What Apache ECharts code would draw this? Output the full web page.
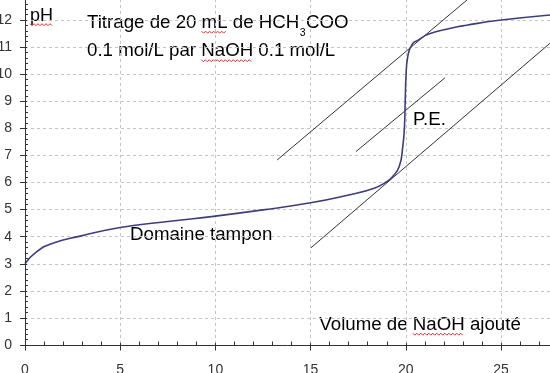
<!DOCTYPE html>
<html>
<head>
<meta charset="utf-8">
<script src="https://cdn.jsdelivr.net/npm/echarts@6/dist/echarts.min.js"></script>
<style>
html,body{margin:0;padding:0;background:#fff;}
#chart{width:550px;height:373px;}
</style>
</head>
<body>
<div id="chart"></div>
<script>
// ---- data ----
const volume = [0, 0.6, 1.5, 2.9, 5, 7.5, 10, 12.5, 15, 17, 18.3, 19, 19.3, 19.66, 19.84, 19.93, 19.97, 20.01, 20.1, 20.36, 20.6, 21.2, 22.3, 23.2, 24.9, 27.6];
const pHValues = [3.0, 3.44, 3.77, 4.02, 4.34, 4.56, 4.76, 4.99, 5.25, 5.54, 5.78, 6.03, 6.21, 6.6, 7.32, 8.06, 9.04, 9.9, 10.64, 11.13, 11.24, 11.48, 11.69, 11.81, 11.99, 12.19];
const tangentHigh = [[13.24, 6.83], [23.65, 13.0]];
const tangentMid = [[17.38, 7.14], [22.06, 9.87]];
const tangentLow = [[15.02, 3.59], [28.0, 11.4]];
const xTickLabels = [0, 5, 10, 15, 20, 25];
const yTickLabels = [0, 1, 2, 3, 4, 5, 6, 7, 8, 9, 10, 11, 12];

const titleLine1a = 'Titrage de 20 mL de HCH';
const titleSub = '3';
const titleLine1b = 'COO';
const titleLine2 = '0.1 mol/L par NaOH 0.1 mol/L';
const yName = 'pH';
const xName = 'Volume de NaOH ajouté';
const bufferLabel = 'Domaine tampon';
const eqLabel = 'P.E.';

// ---- layout ----
const FONT = '"Liberation Sans", Arial, sans-serif';
const FS = 18.7;
const ctx = document.createElement('canvas').getContext('2d');
function tw(s, fs) { ctx.font = fs + 'px ' + FONT; return ctx.measureText(s).width; }
function txt(s, x, baseline, fs, color) {
  return { type: 'text', silent: true, style: { text: s, x: x, y: baseline - 0.35 * fs, fontSize: fs, fontFamily: FONT, fill: color || '#000', align: 'left', verticalAlign: 'middle' } };
}
function wavy(x0, x1, y) {
  const pts = []; let i = 0;
  for (let x = x0; x <= x1 + 0.01; x += 2) { pts.push([x, y + (i % 2 ? 1.2 : -0.8)]); i++; }
  return { type: 'polyline', silent: true, shape: { points: pts }, style: { stroke: '#e03030', lineWidth: 1, fill: null } };
}

const t1x = 87, t1b = 29, t2b = 57.5;
const wA = tw(titleLine1a, FS);
const subFs = 10.5;
const wSub = tw(titleSub, subFs);
const graphics = [
  txt(yName, 30, 22, 18),
  wavy(30, 30 + tw(yName, 18), 24.5),
  txt(titleLine1a, t1x, t1b, FS),
  txt(titleSub, t1x + wA + 0.5, t1b + 8, subFs),
  txt(titleLine1b, t1x + wA + wSub + 1, t1b, FS),
  wavy(t1x + tw('Titrage de 20 ', FS), t1x + tw('Titrage de 20 mL', FS), t1b + 3),
  txt(titleLine2, t1x, t2b, FS),
  wavy(t1x + tw('0.1 mol/L par ', FS), t1x + tw('0.1 mol/L par NaOH', FS), t2b + 3),
  txt(bufferLabel, 130, 241.7, FS),
  txt(eqLabel, 413, 126.7, FS),
  txt(xName, 319.3, 331, FS),
  wavy(319.3 + tw('Volume de ', FS), 319.3 + tw('Volume de NaOH', FS), 334)
];

const chart = echarts.init(document.getElementById('chart'), null, { renderer: 'canvas' });
const gridLine = { show: true, lineStyle: { color: '#c4c4c4', type: [3, 3], width: 1 } };
const axisCol = '#333';
const labelStyle = { color: '#333', fontSize: 14, fontFamily: FONT };

chart.setOption({
  animation: false,
  backgroundColor: '#fff',
  grid: { left: 25, top: -7.04, width: 571.2, height: 352.04, containLabel: false, outerBoundsMode: 'none' },
  xAxis: [
    { type: 'value', min: 0, max: 30, interval: 5, position: 'bottom',
      axisLine: { onZero: false, lineStyle: { color: axisCol, width: 1 } },
      axisTick: { show: true, inside: true, length: 2, lineStyle: { color: axisCol } },
      minorTick: { show: true, splitNumber: 5, length: 3.5, lineStyle: { color: axisCol } },
      axisLabel: Object.assign({ margin: 18.5, showMaxLabel: false,
        formatter: v => (xTickLabels.indexOf(v) >= 0 ? String(v) : '') }, labelStyle),
      splitLine: gridLine },
    { type: 'value', min: 0, max: 30, interval: 5, position: 'bottom',
      axisLine: { show: false, onZero: false },
      axisTick: { show: true, inside: false, length: 5.5, lineStyle: { color: axisCol } },
      axisLabel: { show: false }, splitLine: { show: false } }
  ],
  yAxis: [
    { type: 'value', min: 0, max: 13, interval: 1, position: 'left',
      axisLine: { show: true, onZero: false, lineStyle: { color: axisCol, width: 1 } },
      axisTick: { show: true, inside: true, length: 2, lineStyle: { color: axisCol } },
      minorTick: { show: true, splitNumber: 5, length: 3, lineStyle: { color: axisCol } },
      axisLabel: Object.assign({ margin: 13, showMaxLabel: false,
        formatter: v => (yTickLabels.indexOf(v) >= 0 ? String(v) : '') }, labelStyle),
      splitLine: gridLine },
    { type: 'value', min: 0, max: 13, interval: 1, position: 'left',
      axisLine: { show: false, onZero: false },
      axisTick: { show: true, inside: false, length: 5, lineStyle: { color: axisCol } },
      axisLabel: { show: false }, splitLine: { show: false } }
  ],
  series: [
    { type: 'line', name: 'tangentHigh', data: tangentHigh, showSymbol: false, silent: true,
      lineStyle: { color: '#333', width: 1 }, z: 3 },
    { type: 'line', name: 'tangentMid', data: tangentMid, showSymbol: false, silent: true,
      lineStyle: { color: '#333', width: 1 }, z: 3 },
    { type: 'line', name: 'tangentLow', data: tangentLow, showSymbol: false, silent: true,
      lineStyle: { color: '#333', width: 1 }, z: 3 },
    { type: 'line', name: 'pH', data: volume.map((v, i) => [v, pHValues[i]]),
      showSymbol: false, silent: true, smooth: 0.5,
      lineStyle: { color: '#3d3d7e', width: 1.6 }, z: 4 }
  ],
  graphic: graphics
});
</script>
</body>
</html>
